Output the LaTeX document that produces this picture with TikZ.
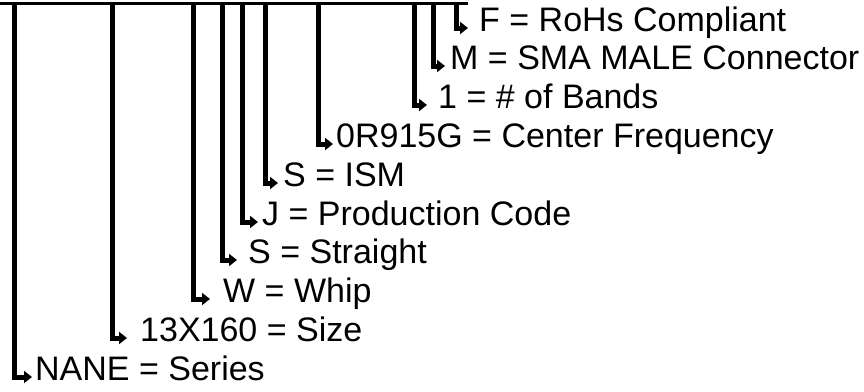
\documentclass[tikz,border=0pt]{standalone}
\usepackage{fontspec}
\setmainfont{Liberation Sans}
\usetikzlibrary{arrows.meta}

\begin{document}
\begin{tikzpicture}[x=1pt, y=-1pt,
        lead/.style={line width=5pt, -{Triangle[length=8pt, width=12pt]}},
        lbl/.style={anchor=west, inner sep=0pt, text height=0.716em, text depth=0pt, font=\fontsize{34}{40}\selectfont}]
        \useasboundingbox (0,0) rectangle (864,391);
        \coordinate (barL) at (0,3);
        \coordinate (barR) at (468,3);
        \draw[line width=3pt] (barL) -- (barR);

        \node[lbl] (rohs) at (479,28) {F = RoHs Compliant};
        \node[lbl] (conn) at (450,66) {M = SMA MALE Connector};
        \node[lbl] (bands) at (438,105) {1 = \# of Bands};
        \node[lbl] (freq) at (336,144) {0R915G = Center Frequency};
        \node[lbl] (ism) at (283,183) {S = ISM};
        \node[lbl] (prod) at (262,222) {J = Production Code};
        \node[lbl] (straight) at (248,260) {S = Straight};
        \node[lbl] (whip) at (223,299) {W = Whip};
        \node[lbl] (size) at (140,338) {13X160 = Size};
        \node[lbl] (series) at (35,377) {NANE = Series};

        \draw[lead, shorten >=11pt] (456,3) |- (rohs.west);
        \draw[lead, shorten >=5pt] (433,3) |- (conn.west);
        \draw[lead, shorten >=11pt] (414,3) |- (bands.west);
        \draw[lead, shorten >=3pt] (318,3) |- (freq.west);
        \draw[lead, shorten >=5pt] (265,3) |- (ism.west);
        \draw[lead, shorten >=4pt] (242,3) |- (prod.west);
        \draw[lead, shorten >=11pt] (222,3) |- (straight.west);
        \draw[lead, shorten >=13pt] (193,3) |- (whip.west);
        \draw[lead, shorten >=13pt] (112,3) |- (size.west);
        \draw[lead, shorten >=3pt] (14,3) |- (series.west);
    \end{tikzpicture}
\end{document}
